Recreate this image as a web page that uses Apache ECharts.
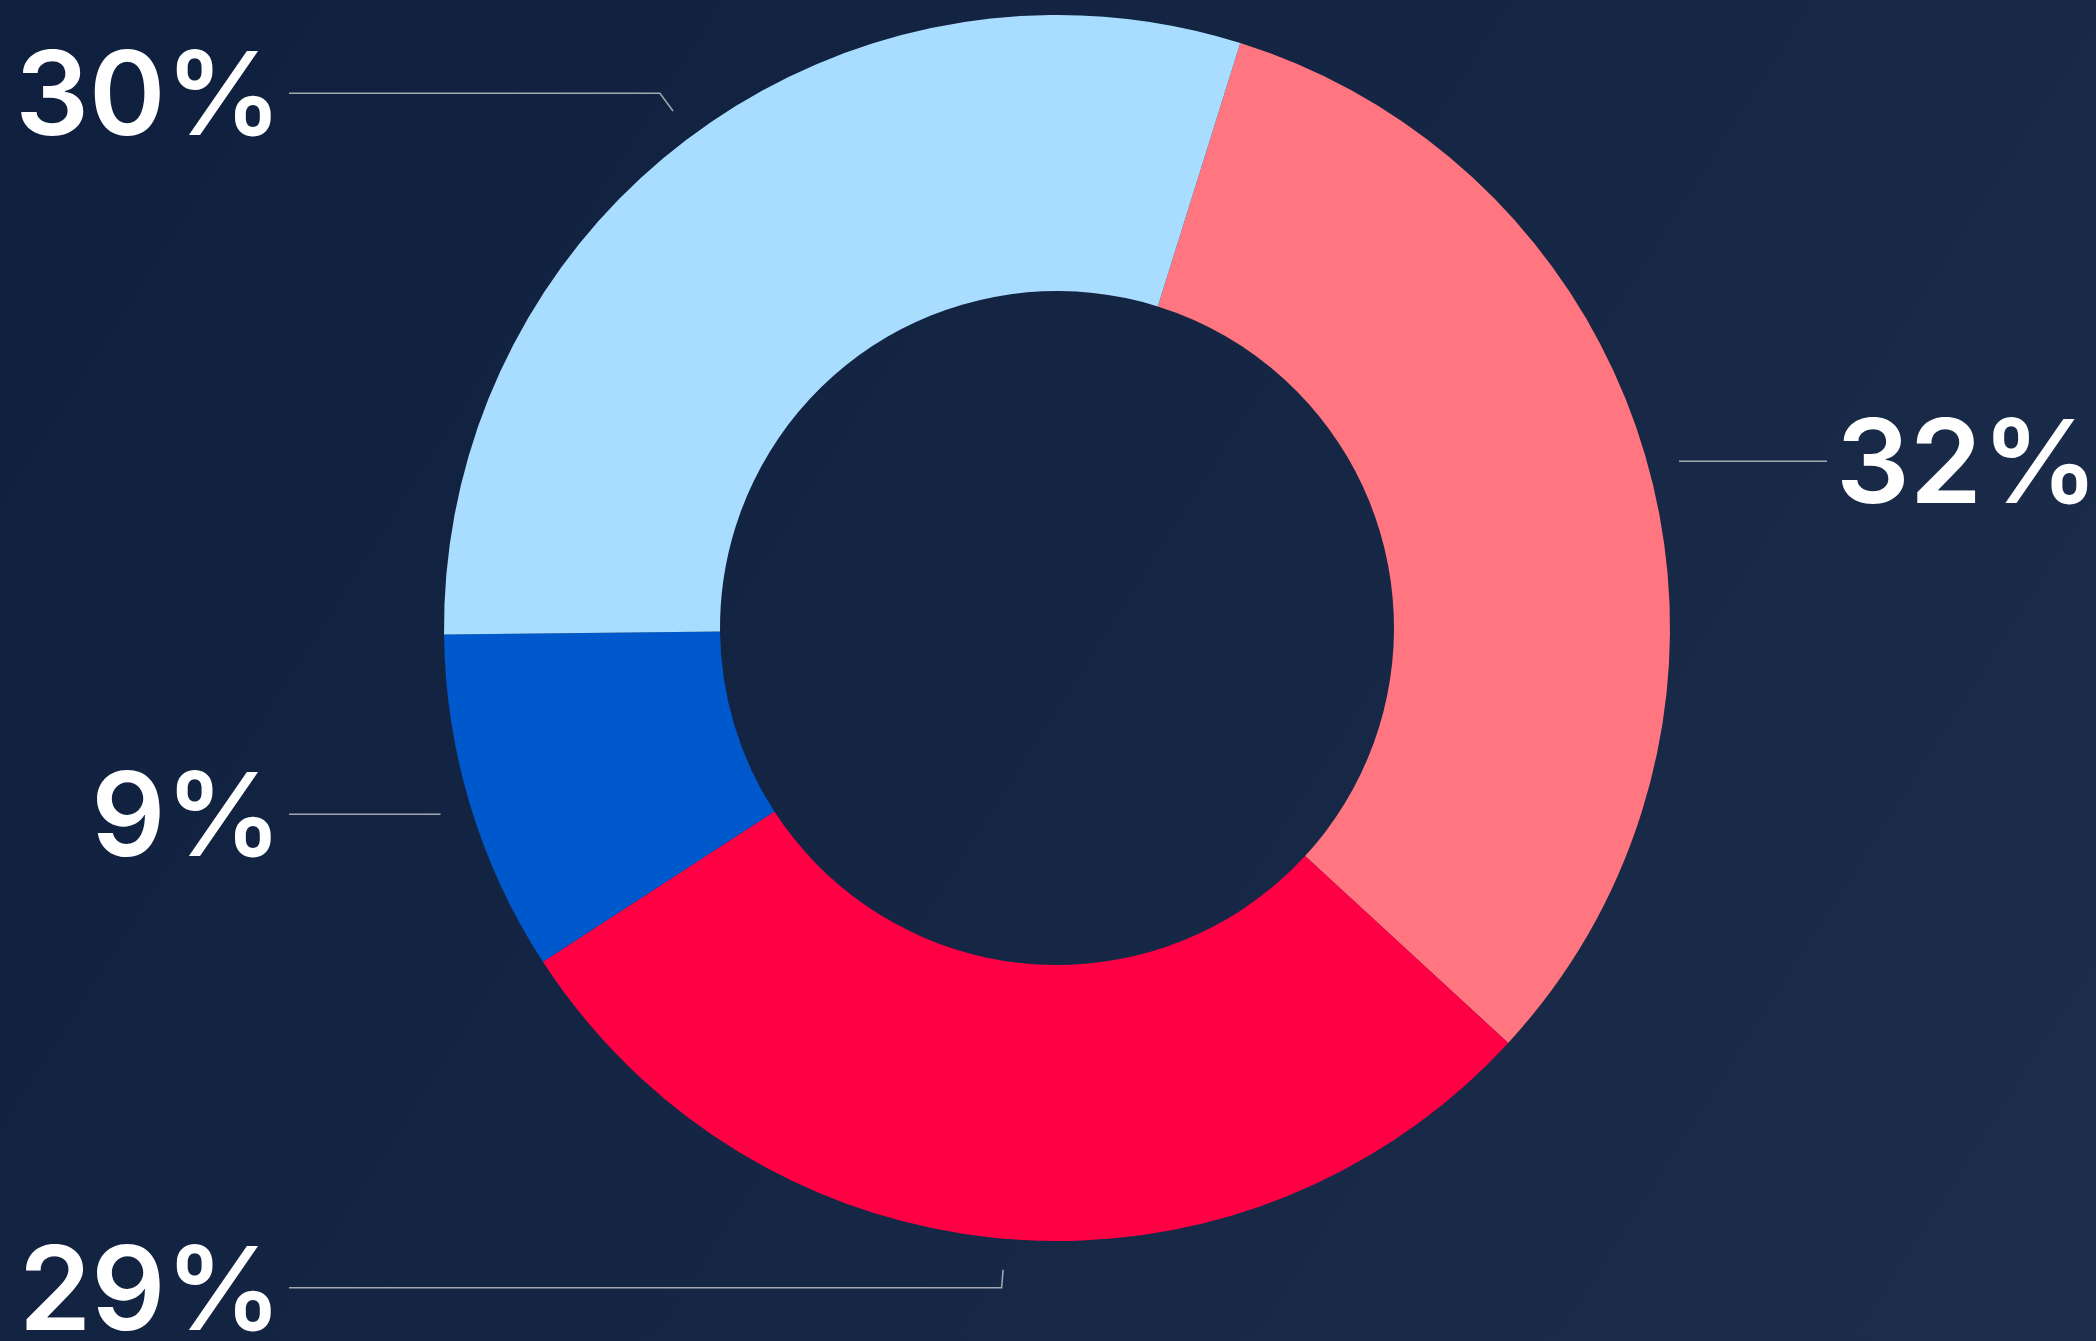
<!DOCTYPE html>
<html>
<head>
<meta charset="utf-8">
<script src="https://cdn.jsdelivr.net/npm/echarts@6/dist/echarts.min.js"></script>
<style>
  html, body { margin: 0; padding: 0; background: #13233f; }
  #chart { width: 2096px; height: 1341px; }
</style>
</head>
<body>
<div id="chart"></div>
<script>
// shares, clockwise from the slice just right of twelve o'clock
const names = ['A', 'B', 'C', 'D']
const shares = [32, 29, 9, 30]
const colors = ['#ff7680', '#ff0044', '#0059cc', '#a8ddff']

// donut geometry (px)
const CX = 1057
const CY = 628
const R_IN = 337
const R_OUT = 613
const GAP = 31 // space between ring and start of leader line
const elbow = [31, 49, 31, 53] // where the leader line turns horizontal, past R_OUT
const LINE_LEFT = 289
const LINE_RIGHT = 1827

const chart = echarts.init(document.getElementById('chart'), null, { renderer: 'canvas' })

// push leader lines off the ring and line labels up at the sides
function placeLabel(params) {
  const i = params.dataIndex
  const p0 = params.labelLinePoints[0]
  const dx = p0[0] - CX
  const dy = p0[1] - CY
  const d = Math.sqrt(dx * dx + dy * dy)
  const ux = dx / d
  const uy = dy / d
  const left = dx < 0
  const s = [CX + ux * (R_OUT + GAP), CY + uy * (R_OUT + GAP)]
  const e = [CX + ux * (R_OUT + elbow[i]), CY + uy * (R_OUT + elbow[i])]
  const endX = left ? LINE_LEFT : LINE_RIGHT
  return {
    x: left ? endX - 7 : endX + 9,
    y: e[1] + 7, // digits sit above the em-box middle
    align: left ? 'right' : 'left',
    verticalAlign: 'middle',
    labelLinePoints: [s, e, [endX, e[1]]]
  }
}

const option = {
  animation: false,
  backgroundColor: {
    type: 'linear',
    x: 0, y: 0, x2: 1, y2: 1,
    colorStops: [
      { offset: 0, color: '#0f1f3e' },
      { offset: 0.5, color: '#152644' },
      { offset: 1, color: '#1d2e4c' }
    ]
  },
  color: colors,
  series: [{
    type: 'pie',
    center: [CX, CY],
    radius: [R_IN, R_OUT],
    startAngle: 72.6,
    clockwise: true,
    avoidLabelOverlap: false,
    silent: true,
    itemStyle: { borderWidth: 0 },
    label: {
      show: true,
      position: 'outer',
      formatter: '{c}%',
      color: '#ffffff',
      fontFamily: 'Inter',
      fontWeight: 600,
      fontSize: 116
    },
    labelLine: {
      show: true,
      length: 30,
      length2: 30,
      lineStyle: { color: '#a3a8b2', width: 1.5 }
    },
    labelLayout: placeLabel,
    data: names.map((n, i) => ({ name: n, value: shares[i] }))
  }]
}

chart.setOption(option)
</script>
</body>
</html>
